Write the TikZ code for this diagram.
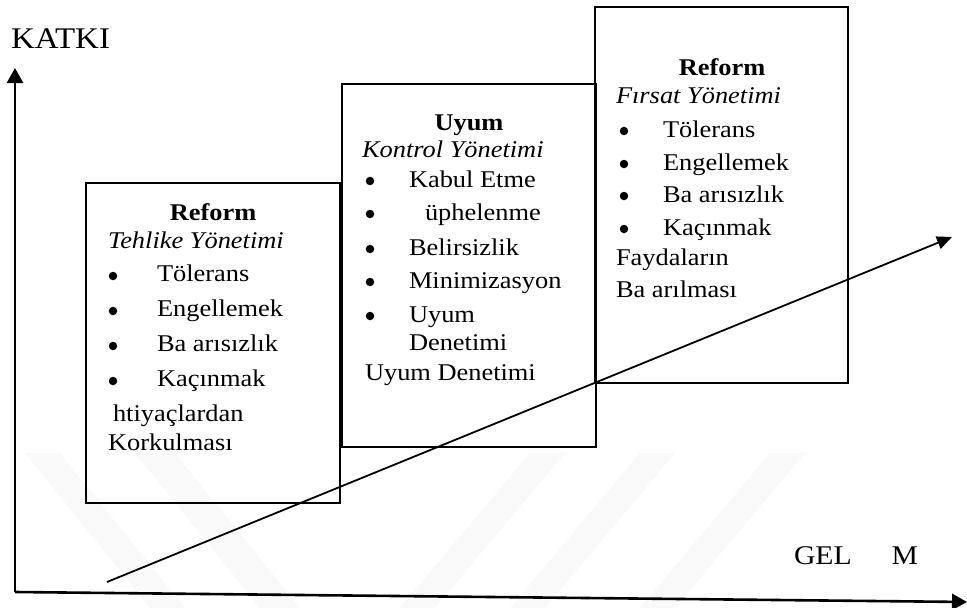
\documentclass[tikz,border=0pt]{standalone}
\usepackage{fontspec}
\setmainfont{Liberation Serif}[FakeStretch=1.1]
\usetikzlibrary{arrows.meta}
\begin{document}
\begin{tikzpicture}[x=1pt,y=-1pt,
  stage/.style={draw, line width=1.8pt, inner sep=0pt, outer sep=0pt},
  txt/.style={inner sep=0pt, outer sep=0pt, anchor=base west, font=\fontsize{24}{28}\selectfont},
  head/.style={txt, anchor=base, font=\fontsize{24}{28}\selectfont\bfseries},
  sub/.style={txt, font=\fontsize{24}{28}\selectfont\itshape},
  dot/.style={circle, fill, inner sep=0pt, minimum size=8.5pt},
  axis/.style={line width=2.6pt, -{Triangle[length=15pt,width=16pt]}},
  trend/.style={line width=1.8pt, -{Triangle[length=15pt,width=13pt]}},
  wmark/.style={fill=gray!5, draw=none}
]
\useasboundingbox (0,0) rectangle (967,608);

% faint background bands
\fill[wmark] (25,453) -- (60,453) -- (185,608) -- (150,608) -- cycle;
\fill[wmark] (135,453) -- (175,453) -- (300,608) -- (260,608) -- cycle;
\fill[wmark] (530,453) -- (565,453) -- (435,608) -- (400,608) -- cycle;
\fill[wmark] (640,453) -- (675,453) -- (545,608) -- (510,608) -- cycle;
\fill[wmark] (770,453) -- (805,453) -- (675,608) -- (640,608) -- cycle;

% axes
\coordinate (O) at (15,592);
\coordinate (Ytop) at (15,68);
\coordinate (Xend) at (967,602);
\draw[axis] (O) -- (Ytop);
\draw[axis] (O) -- (Xend);
\node[txt, font=\fontsize{30}{34}\selectfont] (katki) at (11,48) {KATKI};
\node[txt, font=\fontsize{27}{30}\selectfont] (gelisim) at (794,564) {GEL\hspace{40pt}M};

% stage boxes
\node[stage, minimum width=254pt, minimum height=320pt] (box1) at (213,343) {};
\node[stage, minimum width=254pt, minimum height=363pt] (box2) at (469,265.5) {};
\node[stage, minimum width=253pt, minimum height=376pt] (box3) at (721.5,195) {};

% first stage
\node[head] (h1) at (213,220) {Reform};
\node[sub] (s1) at (108,248) {Tehlike Yönetimi};
\node[dot] (p1a) at (113,276) {};
\node[txt] (t1a) at (157,281.7) {Tölerans};
\node[dot] (p1b) at (113,311) {};
\node[txt] (t1b) at (157,316.7) {Engellemek};
\node[dot] (p1c) at (113,346) {};
\node[txt] (t1c) at (157,351.7) {Ba arısızlık};
\node[dot] (p1d) at (113,381) {};
\node[txt] (t1d) at (157,386.7) {Kaçınmak};
\node[txt] (e1a) at (113,421) {htiyaçlardan};
\node[txt] (e1b) at (108,450) {Korkulması};

% second stage
\node[head] (h2) at (469,130) {Uyum};
\node[sub] (s2) at (362,157) {Kontrol Yönetimi};
\node[dot] (p2a) at (370,181) {};
\node[txt] (t2a) at (409,187) {Kabul Etme};
\node[dot] (p2b) at (370,214) {};
\node[txt] (t2b) at (425,220) {üphelenme};
\node[dot] (p2c) at (370,249) {};
\node[txt] (t2c) at (409,255) {Belirsizlik};
\node[dot] (p2d) at (370,282) {};
\node[txt] (t2d) at (409,288) {Minimizasyon};
\node[dot] (p2e) at (370,316) {};
\node[txt] (t2e) at (409,322) {Uyum};
\node[txt] (t2f) at (409,350) {Denetimi};
\node[txt] (e2a) at (365,380) {Uyum Denetimi};

% third stage
\node[head] (h3) at (722,75) {Reform};
\node[sub] (s3) at (616,103) {Fırsat Yönetimi};
\node[dot] (p3a) at (624,131) {};
\node[txt] (t3a) at (663,137) {Tölerans};
\node[dot] (p3b) at (624,164) {};
\node[txt] (t3b) at (663,170) {Engellemek};
\node[dot] (p3c) at (624,196) {};
\node[txt] (t3c) at (663,202) {Ba arısızlık};
\node[dot] (p3d) at (624,229) {};
\node[txt] (t3d) at (663,235) {Kaçınmak};
\node[txt] (e3a) at (616,265) {Faydaların};
\node[txt] (e3b) at (616,297) {Ba arılması};

% rising trend
\coordinate (d0) at (107,582);
\coordinate (d1) at (952,237);
\draw[trend] (d0) -- (d1);
\end{tikzpicture}
\end{document}
